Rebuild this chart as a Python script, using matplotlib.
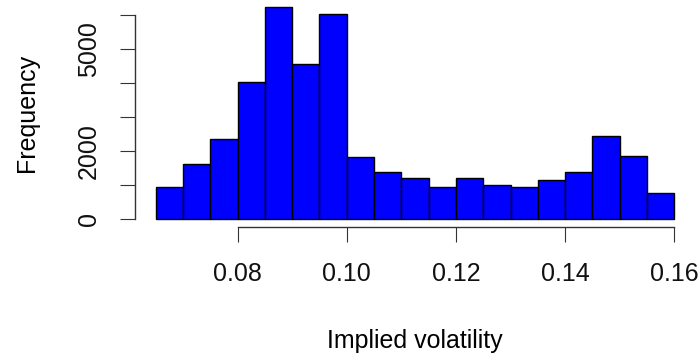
import numpy as np
import matplotlib
matplotlib.use("Agg")
import matplotlib.pyplot as plt

plt.rcParams["font.family"] = ["Liberation Sans", "DejaVu Sans"]
plt.rcParams["font.size"] = 18

#### histogram data
bin_edges = [0.065, 0.070, 0.075, 0.080, 0.085, 0.090, 0.095, 0.100, 0.105, 0.110,
             0.115, 0.120, 0.125, 0.130, 0.135, 0.140, 0.145, 0.150, 0.155, 0.160]
counts = [935, 1630, 2370, 4040, 6245, 4570, 6035, 1830, 1390, 1190,
          945, 1190, 995, 945, 1140, 1390, 2430, 1840, 760]
x_ticks = [0.08, 0.10, 0.12, 0.14, 0.16]
x_tick_labels = ["0.08", "0.10", "0.12", "0.14", "0.16"]
y_ticks = [0, 1000, 2000, 3000, 4000, 5000, 6000]
y_tick_labels = ["0", "", "2000", "", "", "5000", ""]

edges = np.array(bin_edges)
vals = np.array(counts)

### figure geometry in pixels (R style plot region)
W, H = 700, 358
left_px, right_px = 135, 695
bottom_px, top_px = 227.3, -1.3

fig = plt.figure(figsize=(W / 100, H / 100), dpi=100)
ax = fig.add_axes([left_px / W, 1 - bottom_px / H,
                   (right_px - left_px) / W, (bottom_px - top_px) / H])

ax.bar(edges[:-1], vals, width=np.diff(edges), align="edge",
       color="#0000FF", edgecolor="black", linewidth=1.0)

# R pads the ranges by 4 %
xr = edges[-1] - edges[0]
ax.set_xlim(edges[0] - 0.04 * xr, edges[-1] + 0.04 * xr)
ymax = vals.max()
ax.set_ylim(-0.04 * ymax, 1.04 * ymax)

ax.spines["top"].set_visible(False)
ax.spines["right"].set_visible(False)
for s in ["left", "bottom"]:
    ax.spines[s].set_color("#333333")
    ax.spines[s].set_linewidth(1.0)
ax.spines["left"].set_bounds(y_ticks[0], y_ticks[-1])
ax.spines["bottom"].set_bounds(x_ticks[0], x_ticks[-1])

ax.set_xticks(x_ticks)
ax.set_xticklabels(x_tick_labels)
ax.set_yticks(y_ticks)
ax.set_yticklabels(y_tick_labels, rotation=90, va="center")
ax.tick_params(axis="both", direction="out", length=10.8, width=0.8,
               color="#333333", labelcolor="#111111")
ax.tick_params(axis="x", pad=14)
ax.tick_params(axis="y", pad=14)

ax.set_xlabel("Implied volatility", va="baseline")
ax.xaxis.set_label_coords(0.5, (bottom_px - 348) / (bottom_px - top_px))
ax.set_ylabel("Frequency", va="baseline")
ax.yaxis.set_label_coords((34 - left_px) / (right_px - left_px), 0.5)

fig.savefig("out.png", dpi=100)
